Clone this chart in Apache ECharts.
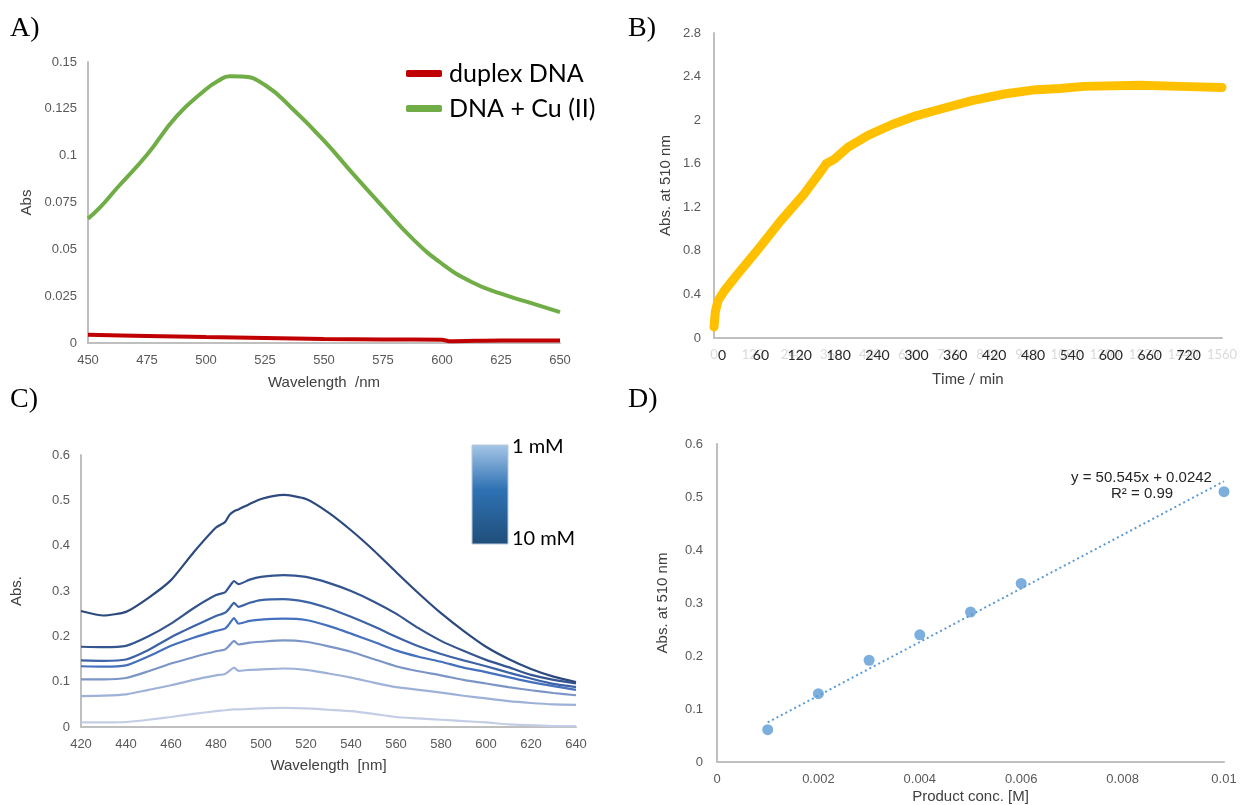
<!DOCTYPE html>
<html>
<head>
<meta charset="utf-8">
<script src="https://cdn.jsdelivr.net/npm/echarts@6/dist/echarts.min.js"></script>
<style>
  html, body { margin: 0; padding: 0; background: #fff; }
  #chart { width: 1244px; height: 805px; }
</style>
</head>
<body>
<div id="chart"></div>
<script>
// ---------- Panel A: UV-vis spectra, duplex DNA with / without Cu(II) ----------
const specA_wl      = [450, 455, 462.5, 475, 487.5, 500, 505, 510, 515, 525, 537.5, 550, 562.5, 575, 587.5, 600, 612.5, 625, 637.5, 650];
const specA_cu      = [0.0664, 0.0722, 0.0830, 0.1005, 0.1210, 0.1355, 0.1398, 0.1424, 0.1423, 0.1377, 0.1240, 0.1080, 0.0900, 0.0726, 0.0557, 0.0423, 0.0326, 0.0263, 0.0214, 0.0165];
const specA_dnaWl   = [450, 475, 500, 525, 550, 575, 600, 603, 625, 650];
const specA_dna     = [0.0044, 0.0038, 0.0032, 0.0027, 0.0021, 0.0019, 0.0018, 0.0009, 0.0014, 0.0014];

// ---------- Panel B: absorbance at 510 nm versus reading index ----------
const kinB_idx = [0, 4, 12, 31, 68, 129, 203, 276, 338, 344, 369, 411, 473, 547, 620, 694, 792, 891, 989, 1063, 1136, 1308, 1431, 1560];
const kinB_abs = [0.10, 0.24, 0.34, 0.43, 0.57, 0.79, 1.07, 1.32, 1.57, 1.60, 1.64, 1.75, 1.86, 1.96, 2.04, 2.10, 2.18, 2.24, 2.28, 2.29, 2.31, 2.32, 2.31, 2.30];
const kinB_minuteTicks = [0, 60, 120, 180, 240, 300, 360, 420, 480, 540, 600, 660, 720];

// ---------- Panel C: spectra for 1–10 mM product ----------
const specC_wl = [420, 430, 440, 450, 460, 470, 480, 484, 486, 488, 490, 495, 500, 510, 520, 530, 540, 550, 560, 570, 580, 590, 600, 610, 620, 630, 640];
const specC_10mM = [0.256, 0.246, 0.254, 0.285, 0.324, 0.385, 0.440, 0.452, 0.468, 0.476, 0.480, 0.492, 0.503, 0.512, 0.503, 0.473, 0.434, 0.390, 0.342, 0.295, 0.251, 0.212, 0.177, 0.150, 0.128, 0.111, 0.099];
const specC_6mM  = [0.177, 0.176, 0.179, 0.200, 0.228, 0.262, 0.291, 0.297, 0.310, 0.322, 0.315, 0.325, 0.331, 0.335, 0.331, 0.318, 0.300, 0.277, 0.250, 0.218, 0.190, 0.168, 0.148, 0.132, 0.115, 0.104, 0.096];
const specC_5mM  = [0.147, 0.146, 0.149, 0.170, 0.198, 0.222, 0.245, 0.252, 0.262, 0.274, 0.265, 0.274, 0.280, 0.282, 0.276, 0.262, 0.243, 0.222, 0.199, 0.178, 0.161, 0.147, 0.134, 0.120, 0.107, 0.095, 0.088];
const specC_4mM  = [0.134, 0.133, 0.136, 0.156, 0.179, 0.197, 0.212, 0.217, 0.228, 0.240, 0.228, 0.234, 0.237, 0.239, 0.236, 0.223, 0.206, 0.188, 0.169, 0.155, 0.144, 0.131, 0.121, 0.110, 0.099, 0.090, 0.082];
const specC_3mM  = [0.105, 0.105, 0.108, 0.123, 0.140, 0.154, 0.167, 0.171, 0.180, 0.190, 0.182, 0.186, 0.188, 0.191, 0.188, 0.178, 0.166, 0.150, 0.134, 0.123, 0.114, 0.104, 0.096, 0.088, 0.081, 0.075, 0.070];
const specC_2mM  = [0.068, 0.069, 0.072, 0.082, 0.092, 0.104, 0.114, 0.117, 0.124, 0.131, 0.124, 0.126, 0.127, 0.129, 0.126, 0.118, 0.109, 0.098, 0.088, 0.082, 0.076, 0.069, 0.063, 0.057, 0.053, 0.050, 0.049];
const specC_1mM  = [0.010, 0.010, 0.011, 0.016, 0.022, 0.029, 0.035, 0.037, 0.038, 0.039, 0.039, 0.040, 0.041, 0.042, 0.041, 0.038, 0.035, 0.029, 0.022, 0.019, 0.016, 0.013, 0.010, 0.006, 0.004, 0.002, 0.002];
const specC_names  = ['10 mM', '6 mM', '5 mM', '4 mM', '3 mM', '2 mM', '1 mM'];
const specC_colors = ['#2c4a7e', '#34558f', '#3b63a6', '#4470bd', '#7c95c7', '#9eb1d8', '#c3cde5'];

// ---------- Panel D: calibration ----------
const calD_conc = [0.001, 0.002, 0.003, 0.004, 0.005, 0.006, 0.010];
const calD_abs  = [0.061, 0.129, 0.192, 0.240, 0.283, 0.337, 0.510];
const calD_slope = 50.545;
const calD_intercept = 0.0242;
const calD_r2 = 0.99;

function pairs(xs, ys) { return xs.map((x, i) => [x, ys[i]]); }

const greyLine = { show: true, lineStyle: { color: '#bfbfbf', width: 2 } };
const labelFont = { color: '#595959', fontFamily: 'Liberation Sans', fontSize: 13 };
const titleFont = { color: '#404040', fontFamily: 'Liberation Sans', fontSize: 15 };

function valAxis(o) {
  return Object.assign({
    type: 'value',
    axisLine: greyLine,
    axisTick: { show: false },
    splitLine: { show: false },
    nameLocation: 'middle',
    nameTextStyle: titleFont
  }, o);
}

const specCSeries = [specC_10mM, specC_6mM, specC_5mM, specC_4mM, specC_3mM, specC_2mM, specC_1mM].map((ys, i) => ({
  name: specC_names[i],
  type: 'line',
  xAxisIndex: 3, yAxisIndex: 2,
  data: pairs(specC_wl, ys),
  showSymbol: false,
  smooth: 0.2,
  lineStyle: { color: specC_colors[i], width: 2.2 },
  itemStyle: { color: specC_colors[i] },
  z: 10 - i
}));

// straight trend line drawn from the stated fit
const trendX = [calD_conc[0], calD_conc[calD_conc.length - 1]];
const trendLine = trendX.map(x => [x, calD_slope * x + calD_intercept]);

const option = {
  backgroundColor: '#fff',
  animation: false,
  grid: [
    { left: 88,  top: 62,  width: 472, height: 281 },
    { left: 714, top: 33,  width: 508, height: 305 },
    { left: 81,  top: 455, width: 495, height: 272 },
    { left: 717, top: 444, width: 507, height: 319 }
  ],
  xAxis: [
    valAxis({ gridIndex: 0, min: 450, max: 650, interval: 25,
      axisLabel: Object.assign({ margin: 11 }, labelFont),
      name: 'Wavelength  /nm', nameGap: 32 }),
    // reading-index axis (faint labels) carries the data
    valAxis({ gridIndex: 1, min: 0, max: 1560, interval: 120,
      axisLabel: { margin: 10, color: '#dadada', fontFamily: 'Lato', fontSize: 13,
        formatter: v => String(v) },
      name: 'Time / min', nameGap: 34,
      nameTextStyle: { color: '#404040', fontFamily: 'Lato', fontSize: 15 } }),
    // minute labels laid over the same span
    { type: 'value', gridIndex: 1, min: -12.4, max: 771.6,
      position: 'bottom',
      axisLine: { show: false }, axisTick: { show: false }, splitLine: { show: false },
      axisLabel: { margin: 10, color: '#262626', fontFamily: 'Lato', fontSize: 14,
        customValues: kinB_minuteTicks } },
    valAxis({ gridIndex: 2, min: 420, max: 640, interval: 20,
      axisLabel: Object.assign({ margin: 11 }, labelFont),
      name: 'Wavelength  [nm]', nameGap: 31 }),
    valAxis({ gridIndex: 3, min: 0, max: 0.01, interval: 0.002,
      axisLabel: Object.assign({ margin: 11 }, labelFont),
      name: 'Product conc. [M]', nameGap: 27 })
  ],
  yAxis: [
    valAxis({ gridIndex: 0, min: 0, max: 0.15, interval: 0.025,
      axisLabel: Object.assign({ margin: 11 }, labelFont),
      name: 'Abs', nameGap: 54 }),
    valAxis({ gridIndex: 1, min: 0, max: 2.8, interval: 0.4,
      axisLabel: Object.assign({ margin: 13 }, labelFont),
      name: 'Abs. at 510 nm', nameGap: 41 }),
    valAxis({ gridIndex: 2, min: 0, max: 0.6, interval: 0.1,
      axisLabel: Object.assign({ margin: 11 }, labelFont),
      name: 'Abs.', nameGap: 57 }),
    valAxis({ gridIndex: 3, min: 0, max: 0.6, interval: 0.1,
      axisLabel: Object.assign({ margin: 14 }, labelFont),
      name: 'Abs. at 510 nm', nameGap: 47 })
  ],
  legend: {
    data: ['duplex DNA', 'DNA + Cu (II)'],
    orient: 'vertical',
    left: 401, top: 56,
    itemGap: 10,
    itemWidth: 36, itemHeight: 7,
    icon: 'roundRect',
    textStyle: { color: '#000', fontFamily: 'Lato', fontSize: 25, padding: [0, 0, 0, 2] }
  },
  series: [
    { name: 'duplex DNA', type: 'line', xAxisIndex: 0, yAxisIndex: 0,
      data: pairs(specA_dnaWl, specA_dna), showSymbol: false, smooth: 0.3,
      lineStyle: { color: '#c00000', width: 4 }, itemStyle: { color: '#c00000' } },
    { name: 'DNA + Cu (II)', type: 'line', xAxisIndex: 0, yAxisIndex: 0,
      data: pairs(specA_wl, specA_cu), showSymbol: false, smooth: 0.5,
      lineStyle: { color: '#70ad47', width: 4 }, itemStyle: { color: '#70ad47' } },
    { name: 'Abs. at 510 nm', type: 'line', xAxisIndex: 1, yAxisIndex: 1,
      data: pairs(kinB_idx, kinB_abs), showSymbol: false, smooth: false,
      lineStyle: { color: '#ffc000', width: 9, cap: 'round', join: 'round' } },
    ...specCSeries,
    { name: 'trend', type: 'line', xAxisIndex: 4, yAxisIndex: 3,
      data: trendLine, showSymbol: false,
      lineStyle: { color: '#5b9bd5', width: 2, type: [2, 3] } },
    { name: 'calibration', type: 'scatter', xAxisIndex: 4, yAxisIndex: 3,
      data: pairs(calD_conc, calD_abs), symbolSize: 11,
      itemStyle: { color: '#5b9bd5' }, z: 5 }
  ],
  graphic: [
    { type: 'text', left: 10, top: 15, style: { text: 'A)', font: '28px "Liberation Serif"', fill: '#000' } },
    { type: 'text', left: 628, top: 15, style: { text: 'B)', font: '28px "Liberation Serif"', fill: '#000' } },
    { type: 'text', left: 10, top: 386, style: { text: 'C)', font: '28px "Liberation Serif"', fill: '#000' } },
    { type: 'text', left: 628, top: 386, style: { text: 'D)', font: '28px "Liberation Serif"', fill: '#000' } },
    { type: 'rect', shape: { x: 472, y: 445, width: 36, height: 99 },
      style: {
        fill: { type: 'linear', x: 0, y: 0, x2: 0, y2: 1, colorStops: [
          { offset: 0, color: '#a6c6e6' }, { offset: 0.45, color: '#2f72b4' }, { offset: 1, color: '#1f4e79' } ] },
        stroke: '#b7c9dc', lineWidth: 1 } },
    { type: 'text', left: 512, top: 437, style: { text: '1 mM', font: '20px Lato', fill: '#000' } },
    { type: 'text', left: 512, top: 529, style: { text: '10 mM', font: '20px Lato', fill: '#000' } },
    { type: 'text', left: 1071, top: 470,
      style: { text: 'y = 50.545x + 0.0242', font: '15px "Liberation Sans"', fill: '#262626' } },
    { type: 'text', left: 1111, top: 486,
      style: { text: 'R\u00b2 = ' + calD_r2, font: '15px "Liberation Sans"', fill: '#262626' } }
  ]
};

const chart = echarts.init(document.getElementById('chart'), null, { renderer: 'canvas' });
chart.setOption(option);
</script>
</body>
</html>
